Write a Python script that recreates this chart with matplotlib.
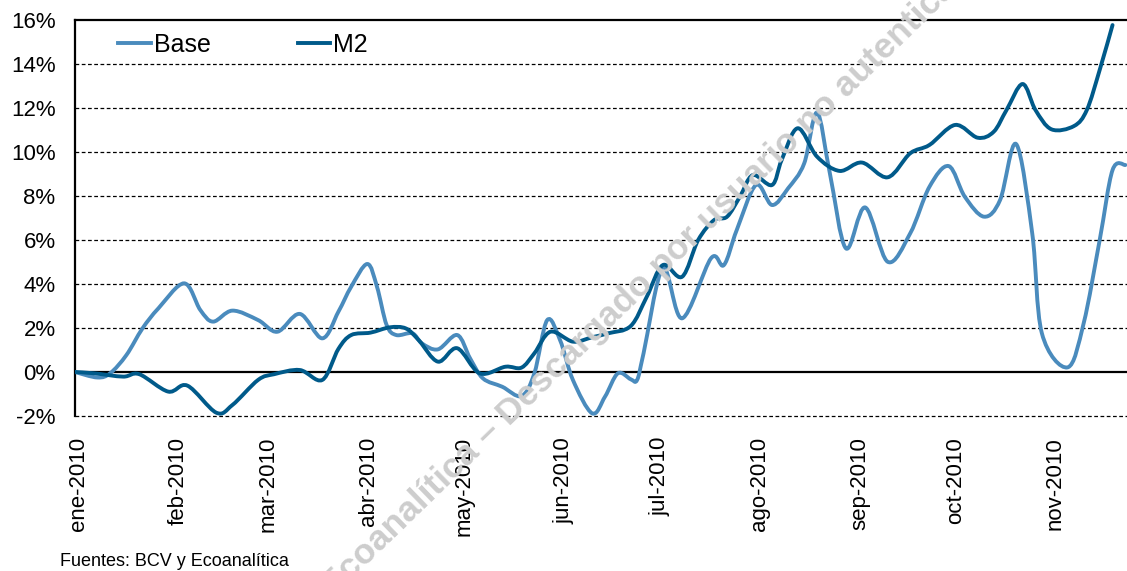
import numpy as np
import pandas as pd
import matplotlib
matplotlib.use("Agg")
import matplotlib.pyplot as plt
import matplotlib.dates as mdates
import matplotlib.transforms as mtransforms
from matplotlib.path import Path
from matplotlib.patches import PathPatch
from matplotlib.lines import Line2D

plt.rcParams['font.family'] = ['Liberation Sans', 'DejaVu Sans']

# Variación acumulada (%) - Base monetaria
fechas_base = ['2010-01-01', '2010-01-08', '2010-01-12', '2010-01-17', '2010-01-22', '2010-01-27',
               '2010-02-04', '2010-02-09', '2010-02-13', '2010-02-19', '2010-02-27',
               '2010-03-05', '2010-03-12', '2010-03-19', '2010-03-24', '2010-03-28',
               '2010-04-02', '2010-04-05', '2010-04-08', '2010-04-11', '2010-04-16', '2010-04-19',
               '2010-04-24', '2010-04-30',
               '2010-05-04', '2010-05-08', '2010-05-14', '2010-05-20', '2010-05-24', '2010-05-28',
               '2010-06-01', '2010-06-05', '2010-06-11', '2010-06-15', '2010-06-19', '2010-06-23',
               '2010-06-25', '2010-06-27',
               '2010-07-03', '2010-07-09', '2010-07-18', '2010-07-22', '2010-07-26',
               '2010-08-01', '2010-08-06', '2010-08-11', '2010-08-16', '2010-08-20', '2010-08-24',
               '2010-08-29',
               '2010-09-04', '2010-09-11', '2010-09-18', '2010-09-24', '2010-09-30',
               '2010-10-05', '2010-10-11', '2010-10-16', '2010-10-21', '2010-10-26', '2010-10-29',
               '2010-11-06', '2010-11-11', '2010-11-16', '2010-11-20', '2010-11-24']
base = [0.0, -0.25, -0.05, 0.77, 1.98, 2.9,
        4.03, 2.82, 2.29, 2.79, 2.36,
        1.83, 2.64, 1.53, 2.74, 3.88,
        4.91, 3.88, 2.14, 1.68, 1.76, 1.3, 1.03, 1.68,
        0.62, -0.29, -0.67, -1.09, -0.06, 2.36,
        1.45, -0.36, -1.88, -1.12, -0.06, -0.33, -0.36, 0.85,
        4.71, 2.44, 5.17, 4.86, 6.45,
        8.5, 7.59, 8.35, 9.48, 11.79, 9.03, 5.62,
        7.48, 5.01, 6.3, 8.42, 9.36,
        7.97, 7.06, 7.82, 10.36, 6.3, 1.76,
        0.21, 2.21, 6.0, 9.18, 9.41]

# Variación acumulada (%) - M2
fechas_m2 = ['2010-01-01', '2010-01-07', '2010-01-16', '2010-01-21', '2010-01-30',
             '2010-02-05', '2010-02-14', '2010-02-19', '2010-02-27',
             '2010-03-04', '2010-03-12', '2010-03-19', '2010-03-24', '2010-03-28',
             '2010-04-03', '2010-04-09', '2010-04-14', '2010-04-18', '2010-04-24', '2010-04-30',
             '2010-05-07', '2010-05-15', '2010-05-20', '2010-05-24', '2010-05-29',
             '2010-06-05', '2010-06-11', '2010-06-16', '2010-06-23', '2010-06-28',
             '2010-07-03', '2010-07-09', '2010-07-14', '2010-07-19', '2010-07-23', '2010-07-27',
             '2010-07-31',
             '2010-08-06', '2010-08-09', '2010-08-14', '2010-08-20', '2010-08-27',
             '2010-09-03', '2010-09-11', '2010-09-18', '2010-09-24',
             '2010-10-02', '2010-10-09', '2010-10-14', '2010-10-18', '2010-10-23', '2010-10-27',
             '2010-11-01', '2010-11-08', '2010-11-12', '2010-11-16', '2010-11-20']
m2 = [0.0, -0.06, -0.21, -0.1, -0.89,
      -0.62, -1.85, -1.5, -0.36,
      -0.1, 0.09, -0.36, 1.05, 1.68,
      1.79, 2.03, 1.98, 1.45, 0.47, 1.08,
      -0.06, 0.24, 0.2, 0.85, 1.83,
      1.38, 1.58, 1.76, 2.09, 3.42,
      4.86, 4.33, 6.0, 6.91, 7.06, 7.97, 8.95,
      8.5, 9.64, 11.08, 9.79, 9.14,
      9.52, 8.85, 9.94, 10.32,
      11.23, 10.65, 10.92, 11.91, 13.09, 11.91,
      11.03, 11.18, 11.91, 13.73, 15.77]

meses = ['ene', 'feb', 'mar', 'abr', 'may', 'jun', 'jul', 'ago', 'sep', 'oct', 'nov']

COLOR_BASE = '#4a8bbd'
COLOR_M2 = '#005a8a'


def linea_suavizada(ax, fechas, valores, color, z):
    # línea suavizada estilo Excel: curvas Bezier que pasan por cada punto
    x = mdates.date2num(pd.to_datetime(fechas))
    y = np.asarray(valores, dtype=float)
    pts = np.column_stack([x, y])
    verts = [pts[0]]
    codes = [Path.MOVETO]
    n = len(pts)
    for i in range(n - 1):
        p0 = pts[i - 1] if i > 0 else pts[i]
        p1 = pts[i]
        p2 = pts[i + 1]
        p3 = pts[i + 2] if i + 2 < n else pts[i + 1]
        c1 = p1 + (p2 - p0) / 6
        c2 = p2 - (p3 - p1) / 6
        verts += [c1, c2, p2]
        codes += [Path.CURVE4] * 3
    patch = PathPatch(Path(verts, codes), facecolor='none', edgecolor=color,
                      lw=2.8, joinstyle='round', capstyle='round', zorder=z,
                      transform=ax.transData)
    ax.add_patch(patch)


fig = plt.figure(figsize=(11.27, 5.71), dpi=100)
ax = fig.add_axes([75 / 1127, 1 - 416 / 571, 1 - 75 / 1127, 396 / 571])

# marca de agua
fig.text(326 / 1127, 1 - 591 / 571, 'Ecoanalítica – Descargado por usuario no autenticado',
         rotation=44.2, rotation_mode='anchor', ha='left', va='center',
         fontsize=25.5, fontweight='bold', color='#cdcdcd', zorder=0)
ax.patch.set_alpha(0)

linea_suavizada(ax, fechas_base, base, COLOR_BASE, 3)
linea_suavizada(ax, fechas_m2, m2, COLOR_M2, 4)

ax.set_ylim(-2, 16)
ax.set_xlim(pd.Timestamp('2010-01-01'), pd.Timestamp('2010-11-24 12:00'))
ax.set_yticks(np.arange(-2, 17, 2))
ax.set_yticklabels([f'{v}%' for v in range(-2, 17, 2)])

ticks = pd.date_range('2010-01-01', periods=len(meses), freq='MS')
ax.set_xticks(ticks)
ax.set_xticklabels([f'{m}-2010' for m in meses], rotation=90, va='top', ha='center')

ax.tick_params(axis='both', length=0, labelsize=16)
ax.tick_params(axis='y', pad=14)
ax.tick_params(axis='x', pad=15)

# las etiquetas de fecha quedan un poco a la derecha de la marca
desplazar = mtransforms.ScaledTranslation(4 / 100, 0, fig.dpi_scale_trans)
for lbl in ax.get_xticklabels():
    lbl.set_transform(lbl.get_transform() + desplazar)

for v in range(-2, 16, 2):
    if v != 0:
        ax.axhline(v, color='black', lw=0.9, ls=(0, (3, 2)), zorder=1, clip_on=False)
ax.axhline(0, color='black', lw=1.6, zorder=2)

ax.spines['right'].set_visible(False)
ax.spines['bottom'].set_visible(False)
ax.spines['left'].set_linewidth(1.6)
ax.spines['top'].set_linewidth(1.6)

handles = [Line2D([], [], color=COLOR_BASE, lw=2.8), Line2D([], [], color=COLOR_M2, lw=2.8)]
ax.legend(handles, ['Base', 'M2'], loc='center left', bbox_to_anchor=(118 / 1127, 1 - 45 / 571),
          bbox_transform=fig.transFigure, ncol=2, frameon=False, fontsize=18,
          handlelength=1.3, handletextpad=0.12, columnspacing=3.5,
          borderpad=0, borderaxespad=0)

fig.text(60 / 1127, 1 - 562 / 571, 'Fuentes: BCV y Ecoanalítica', fontsize=13, va='center')

fig.savefig('out.png', dpi=100)
